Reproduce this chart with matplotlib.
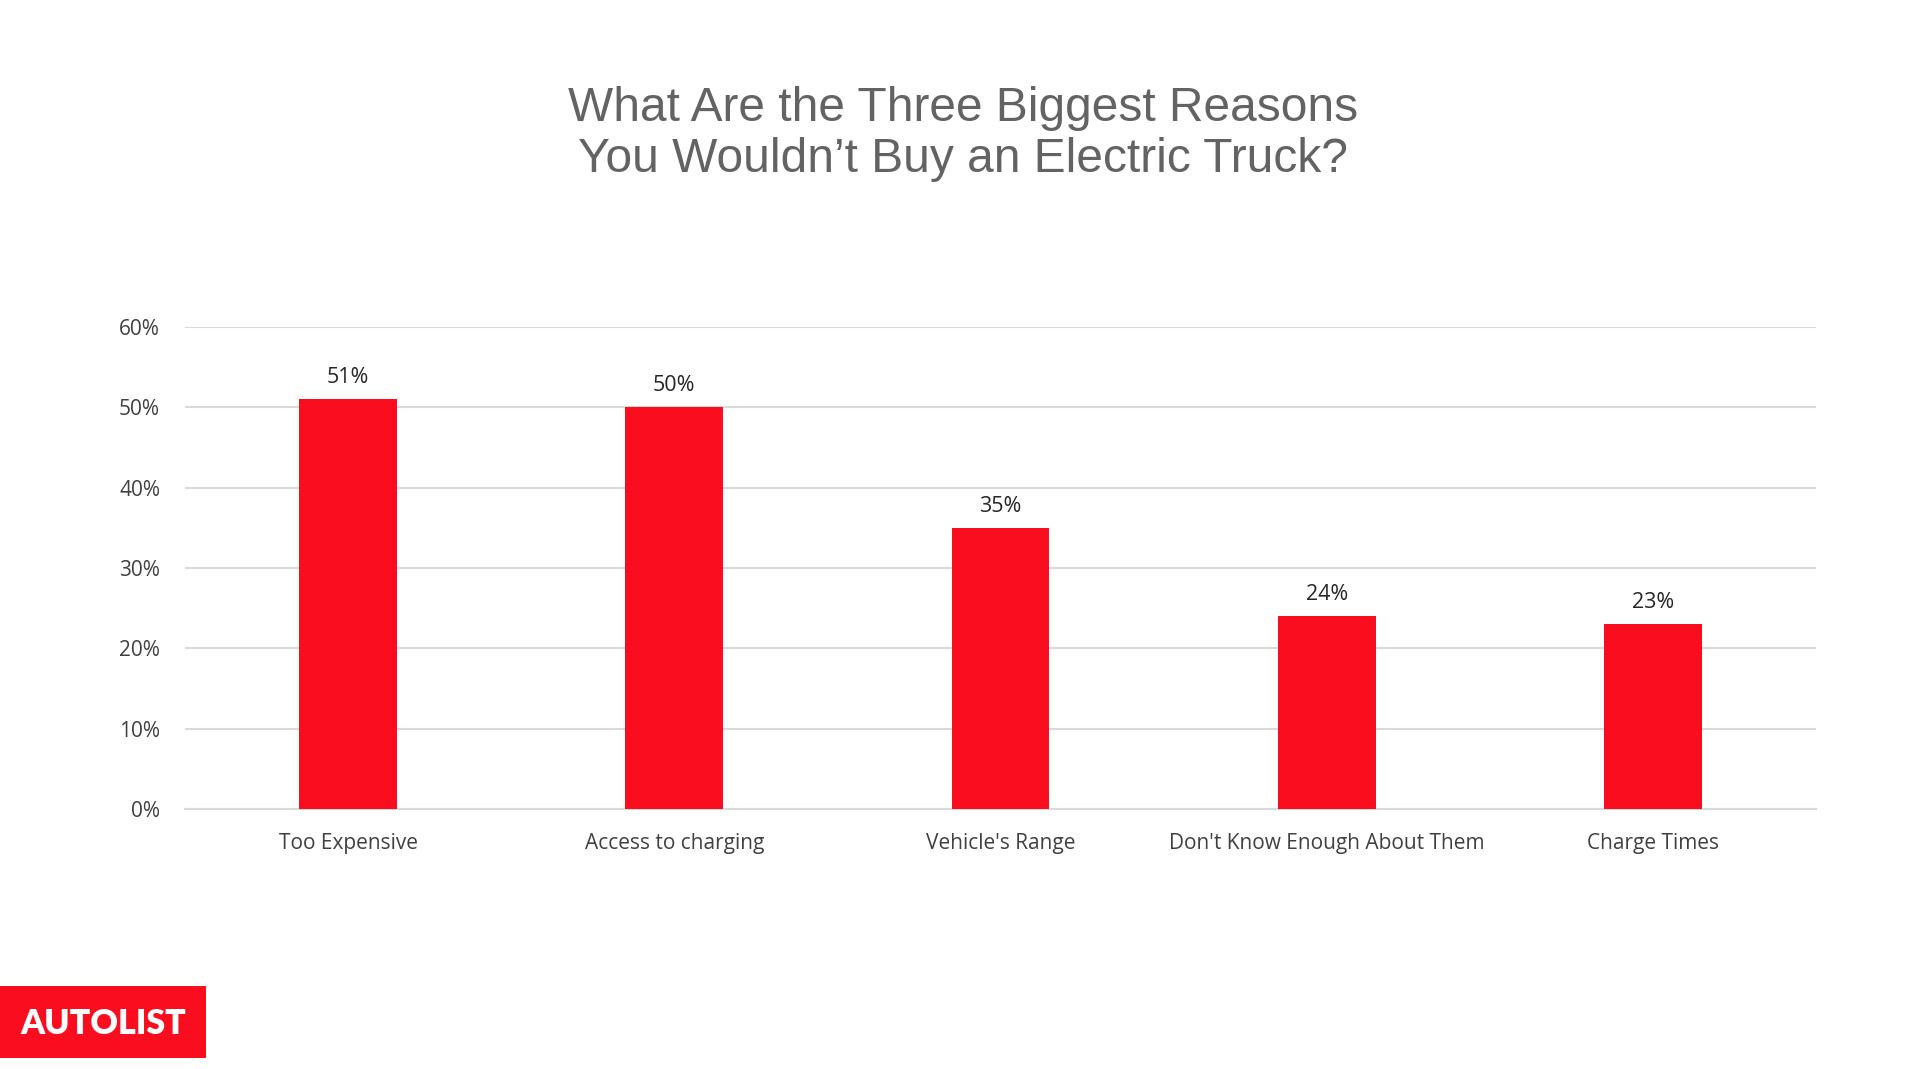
import matplotlib
matplotlib.use("Agg")
import matplotlib.pyplot as plt
from matplotlib.patches import Rectangle

categories = ["Too Expensive", "Access to charging", "Vehicle's Range",
              "Don't Know Enough About Them", "Charge Times"]
values = [51, 50, 35, 24, 23]
yticks = [0, 10, 20, 30, 40, 50, 60]
title = "What Are the Three Biggest Reasons\nYou Wouldn\u2019t Buy an Electric Truck?"

W, H = 1917, 1069
fig = plt.figure(figsize=(W / 100, H / 100), dpi=100)
fig.patch.set_facecolor("white")

ax = fig.add_axes([185 / W, 1 - 809 / H, (1816 - 185) / W, (809 - 327) / H])
red = "#f90d1e"
ax.bar(range(len(values)), values, width=0.3, color=red, zorder=3)
ax.set_xlim(-0.5, len(values) - 0.5)
ax.set_ylim(0, 60)
ax.set_yticks(yticks)
ax.set_yticklabels([f"{t}%" for t in yticks], fontsize=15, color="#404040", family="Open Sans")
ax.set_xticks(range(len(values)))
ax.set_xticklabels(categories, fontsize=15, color="#404040", family="Open Sans")
ax.tick_params(axis="both", length=0)
ax.tick_params(axis="y", pad=18)
ax.tick_params(axis="x", pad=17)
ax.grid(axis="y", color="#d9d9d9", linewidth=1.5, zorder=0)
for s in ["top", "right", "left"]:
    ax.spines[s].set_visible(False)
ax.spines["bottom"].set_color("#d9d9d9")
ax.spines["bottom"].set_linewidth(1.5)

for i, v in enumerate(values):
    ax.annotate(f"{v}%", (i, v), xytext=(0, 8), textcoords="offset points",
                ha="center", va="bottom", fontsize=15.5, color="#262626", family="Open Sans")

fig.text(963 / W, 1 - 134 / H, title, ha="center", va="center", fontsize=34.5,
         color="#636363", family="Liberation Sans", linespacing=1.17)

# logo
fig.patches.append(Rectangle((0, 1 - 1058 / H), 206 / W, 72 / H, transform=fig.transFigure,
                             facecolor=red, edgecolor="none"))
fig.text(103 / W, 1 - 1024 / H, "AUTOLIST", ha="center", va="center", fontsize=24.5,
         color="white", fontweight="heavy", family="Lato")

fig.savefig("out.png", dpi=100)
